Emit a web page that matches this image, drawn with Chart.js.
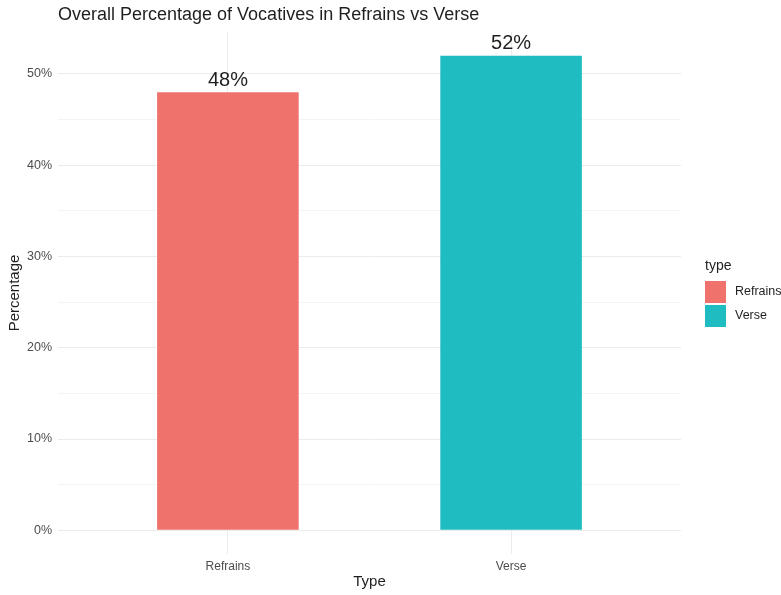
<!DOCTYPE html>
<html>
<head>
<meta charset="utf-8">
<script src="https://cdn.jsdelivr.net/npm/chart.js@4/dist/chart.umd.min.js"></script>
<style>
  html, body { margin: 0; padding: 0; background: #ffffff; }
  #wrap { width: 781px; height: 595px; }
</style>
</head>
<body>
<div id="wrap"><canvas id="chart"></canvas></div>
<script>
const categories = ["Refrains", "Verse"];
const percentages = [48, 52];
const fillColors = ["#ef736c", "#1fbdc2"];
const yTicks = [0, 10, 20, 30, 40, 50];

const FONT = "'Liberation Sans', Arial, Helvetica, sans-serif";
const TEXT_DARK = "#1f1f1f";
const TEXT_AXIS = "#4d4d4d";

// one dataset per type so the legend swatches follow the fills
const datasets = categories.map((name, i) => ({
  label: name,
  data: [{ x: i + 1, y: percentages[i] }],
  backgroundColor: fillColors[i],
  borderWidth: 0,
  grouped: false,
  barPercentage: 0.5,
  categoryPercentage: 1,
}));

const titleAndLabels = {
  id: "titleAndLabels",
  afterDatasetsDraw(chart) {
    const { ctx, chartArea } = chart;
    ctx.save();
    // value labels on top of each bar
    ctx.font = `20px ${FONT}`;
    ctx.fillStyle = TEXT_DARK;
    ctx.textAlign = "center";
    ctx.textBaseline = "bottom";
    chart.data.datasets.forEach((ds, i) => {
      const bar = chart.getDatasetMeta(i).data[0];
      ctx.fillText(`${ds.data[0].y}%`, bar.x, bar.y - 2);
    });

    // plot title, aligned with the panel
    ctx.font = `18px ${FONT}`;
    ctx.textAlign = "left";
    ctx.textBaseline = "middle";
    ctx.fillText("Overall Percentage of Vocatives in Refrains vs Verse", chartArea.left, 15);

    // legend on the right
    const lx = chartArea.right + 24;
    ctx.font = `14px ${FONT}`;
    ctx.fillText("type", lx, 266);
    ctx.font = `12.5px ${FONT}`;
    chart.data.datasets.forEach((ds, i) => {
      const top = 281 + i * 24;
      ctx.fillStyle = ds.backgroundColor;
      ctx.fillRect(lx, top, 21, 22);
      ctx.fillStyle = TEXT_DARK;
      ctx.fillText(ds.label, lx + 30, top + 11);
    });
    ctx.restore();
  },
};

new Chart(document.getElementById("chart"), {
  type: "bar",
  data: { datasets },
  options: {
    responsive: true,
    maintainAspectRatio: false,
    animation: false,
    layout: { padding: { top: 32, right: 100, left: 0, bottom: 0 } },
    plugins: {
      legend: { display: false },
      title: { display: false },
      tooltip: { enabled: false },
    },
    scales: {
      x: {
        type: "linear",
        min: 0.4,
        max: 2.6,
        offset: false,
        afterFit: (scale) => { scale.height = 41; },
        ticks: {
          stepSize: 1,
          includeBounds: false,
          padding: 5,
          color: TEXT_AXIS,
          font: { family: FONT, size: 12 },
          callback: (v) => categories[v - 1] ?? "",
        },
        grid: { color: "#ebebeb", drawTicks: false, offset: false },
        border: { display: false },
        title: {
          display: true,
          text: "Type",
          color: TEXT_DARK,
          font: { family: FONT, size: 15 },
          padding: { top: 0, bottom: 4 },
        },
      },
      y: {
        min: -2.6,
        max: 54.6,
        afterFit: (scale) => { scale.width = 58; },
        ticks: {
          stepSize: 5,
          includeBounds: false,
          padding: 6,
          color: TEXT_AXIS,
          font: { family: FONT, size: 12.5 },
          callback: (v) => (yTicks.includes(v) ? `${v}%` : ""),
        },
        grid: {
          drawTicks: false,
          color: (c) => (yTicks.includes(c.tick.value) ? "#ebebeb" : "#f4f4f4"),
        },
        border: { display: false },
        title: {
          display: true,
          text: "Percentage",
          color: TEXT_DARK,
          font: { family: FONT, size: 15 },
          padding: { top: 6, bottom: 0 },
        },
      },
    },
  },
  plugins: [titleAndLabels],
});
</script>
</body>
</html>
